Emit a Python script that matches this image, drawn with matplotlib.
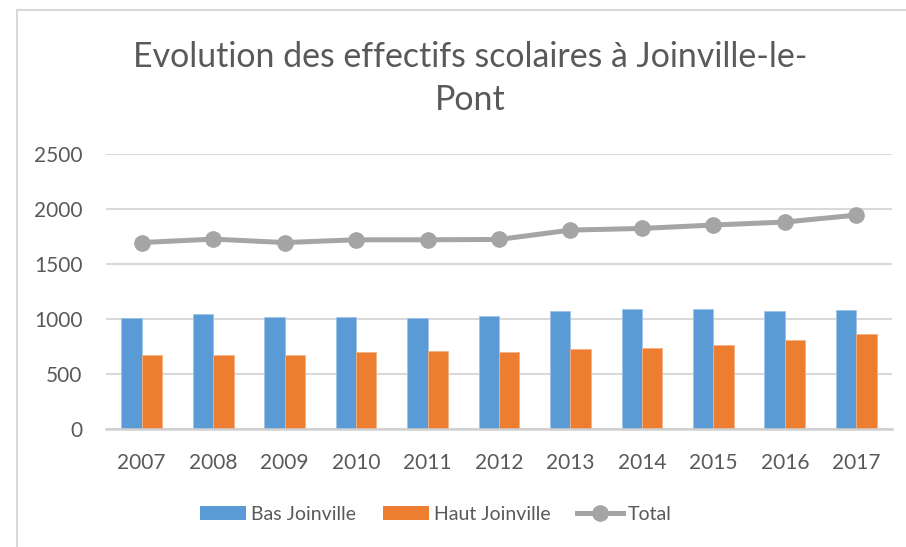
import matplotlib
matplotlib.use("Agg")
import matplotlib.pyplot as plt
import numpy as np
from matplotlib.lines import Line2D
from matplotlib.patches import Patch, Rectangle

years = ["2007", "2008", "2009", "2010", "2011", "2012", "2013", "2014", "2015", "2016", "2017"]
bas_joinville = [1012, 1048, 1021, 1021, 1012, 1027, 1075, 1088, 1091, 1073, 1082]
haut_joinville = [678, 672, 672, 700, 712, 700, 733, 739, 766, 809, 866]
total = [1696, 1727, 1696, 1721, 1721, 1724, 1809, 1824, 1855, 1882, 1945]
yticks = [0, 500, 1000, 1500, 2000, 2500]

plt.rcParams['font.family'] = ['Lato', 'DejaVu Sans']
text_color = '#595959'
grid_color = '#d9d9d9'
blue = '#5b9bd5'
orange = '#ed7d31'
grey = '#a5a5a5'

W, H = 906, 547
fig = plt.figure(figsize=(W / 100, H / 100), dpi=100)
fig.patch.set_facecolor('white')

# chart border
fig.add_artist(Rectangle((17 / W, -0.1), 1.2, 1 - 10 / H + 0.1, transform=fig.transFigure,
                         fill=False, edgecolor=grid_color, linewidth=1.5))

ax = fig.add_axes([106 / W, 1 - 429.3 / H, (892 - 106) / W, (429.3 - 154) / H])
x = np.arange(len(years))
bw = 0.285
ax.bar(x - bw / 2, bas_joinville, width=bw, color=blue, edgecolor='#9dc3e6', linewidth=0.6, zorder=2)
ax.bar(x + bw / 2, haut_joinville, width=bw, color=orange, edgecolor='#f4b183', linewidth=0.6, zorder=2)
ax.plot(x, total, color=grey, linewidth=3.6, marker='o', markersize=11, zorder=3)

ax.set_xlim(-0.5, len(years) - 0.5)
ax.set_ylim(0, 2500)
ax.set_yticks(yticks)
ax.set_yticklabels([str(v) for v in yticks])
ax.set_xticks(x)
ax.set_xticklabels(years)
ax.yaxis.grid(True, color=grid_color, linewidth=1.5, zorder=0)
ax.set_axisbelow(True)
for s in ['top', 'right', 'left']:
    ax.spines[s].set_visible(False)
ax.spines['bottom'].set_color('#d0d0d0')
ax.spines['bottom'].set_linewidth(1.8)
ax.tick_params(axis='both', length=0, labelsize=15, colors=text_color)
ax.tick_params(axis='y', pad=17)
ax.tick_params(axis='x', pad=17)

fig.text(470 / W, 1 - 57 / H, "Evolution des effectifs scolaires à Joinville-le-",
         ha='center', va='center', fontsize=24.4, color=text_color)
fig.text(470 / W, 1 - 100 / H, "Pont", ha='center', va='center', fontsize=24.4, color=text_color)

handles = [Patch(facecolor=blue, edgecolor='none'),
           Patch(facecolor=orange, edgecolor='none'),
           Line2D([0], [0], color=grey, linewidth=3.6, marker='o', markersize=11)]
fig.legend(handles, ["Bas Joinville", "Haut Joinville", "Total"], loc='center',
           bbox_to_anchor=(436 / W, 1 - 514 / H), ncol=3, frameon=False,
           fontsize=14, labelcolor=text_color, handlelength=2.35, handleheight=0.7,
           handletextpad=0.26, columnspacing=1.4)

fig.savefig("out.png", dpi=100, facecolor='white')
